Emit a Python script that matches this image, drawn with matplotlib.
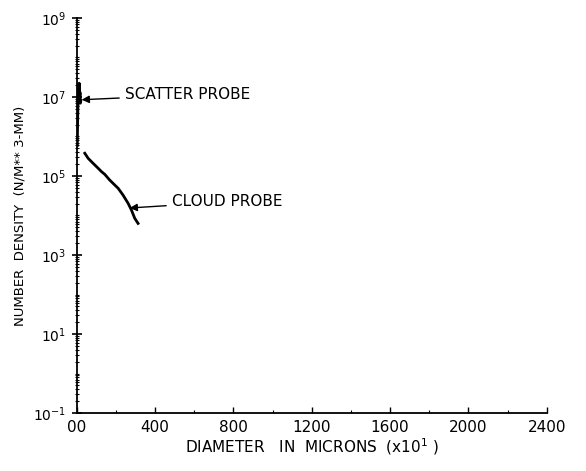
import matplotlib.pyplot as plt
from matplotlib.ticker import LogLocator, FixedLocator, MultipleLocator, NullFormatter

# scatter probe (x in microns x10)
scatter_x = [2, 3, 4, 5, 6, 8, 10, 12, 14, 16, 18, 20]
scatter_y = [6e5, 1.5e6, 3e6, 5e6, 8e6, 1.2e7, 9e6, 2.2e7, 1.0e7, 1.3e7, 7e6, 8e6]

# cloud probe
cloud_x = [41, 58, 83, 109, 126, 143, 168, 194, 211, 236, 262, 279, 296, 313]
cloud_y = [3.76e5, 2.8e5, 2.1e5, 1.57e5, 1.29e5, 1.1e5, 7.9e4, 5.9e4, 4.9e4,
           3.3e4, 2.04e4, 1.38e4, 8.5e3, 6.3e3]

xticks = [0, 400, 800, 1200, 1600, 2000, 2400]
xticklabels = ['00', '400', '800', '1200', '1600', '2000', '2400']
ydecades = [1e-1, 1e1, 1e3, 1e5, 1e7, 1e9]
yticklabels = ['$10^{-1}$', '$10^{1}$', '$10^{3}$', '$10^{5}$', '$10^{7}$', '$10^{9}$']

fig = plt.figure(figsize=(5.86, 4.71), dpi=100)
ax = fig.add_axes([0.131, 0.123, 0.802, 0.839])

ax.plot(scatter_x, scatter_y, color='black', lw=2.2)
ax.plot(cloud_x, cloud_y, color='black', lw=2)

ax.set_yscale('log')
ax.set_xlim(0, 2400)
ax.set_ylim(1e-1, 1e9)

ax.yaxis.set_major_locator(FixedLocator(ydecades))
ax.set_yticklabels(yticklabels)
ax.yaxis.set_minor_locator(LogLocator(base=10, subs=[1, 2, 3, 4, 5, 6, 7, 8, 9], numticks=30))
ax.yaxis.set_minor_formatter(NullFormatter())
ax.set_xticks(xticks)
ax.set_xticklabels(xticklabels)
ax.xaxis.set_minor_locator(MultipleLocator(200))

ax.tick_params(axis='y', which='major', direction='inout', length=7, width=1.2, labelsize=10, pad=4)
ax.tick_params(axis='y', which='minor', direction='inout', length=3, width=0.8)
ax.tick_params(axis='x', which='major', direction='in', length=4, width=1, labelsize=11, pad=5)
ax.tick_params(axis='x', which='minor', direction='in', length=2, width=0.8)

for s in ['top', 'right']:
    ax.spines[s].set_visible(False)
ax.spines['left'].set_linewidth(1.3)
ax.spines['bottom'].set_linewidth(1.3)

ax.set_xlabel('DIAMETER   IN  MICRONS  (x10$^1$ )', fontsize=11, labelpad=1)
ax.set_ylabel('NUMBER  DENSITY  (N/M** 3-MM)', fontsize=9.5, labelpad=5)

ax.annotate('SCATTER PROBE', xy=(25, 8.5e6), xytext=(245, 1.12e7),
            fontsize=11, va='center',
            arrowprops=dict(arrowstyle='-|>', color='black', lw=1, shrinkA=2, shrinkB=0))
ax.annotate('CLOUD PROBE', xy=(270, 1.55e4), xytext=(485, 2.2e4),
            fontsize=11, va='center',
            arrowprops=dict(arrowstyle='-|>', color='black', lw=1, shrinkA=2, shrinkB=0))

fig.savefig('out.png', dpi=100)
